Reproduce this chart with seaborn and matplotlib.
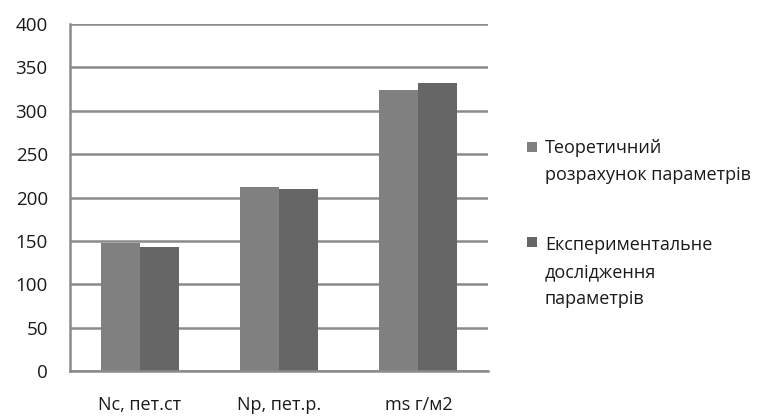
import matplotlib
matplotlib.use("Agg")
import matplotlib.pyplot as plt
import seaborn as sns
import pandas as pd
from matplotlib.patches import Rectangle
from matplotlib.ticker import FixedLocator

categories = ["Nc, пет.ст", "Np, пет.р.", "ms г/м2"]
series_names = ["Теоретичний\nрозрахунок параметрів",
                "Експериментальне\nдослідження\nпараметрів"]
theoretical = [148, 212, 324]
experimental = [143, 210, 332]
y_ticks = [0, 50, 100, 150, 200, 250, 300, 350, 400]
palette = ["#808080", "#666666"]

df = pd.DataFrame({
    "category": categories * 2,
    "series": [series_names[0]] * 3 + [series_names[1]] * 3,
    "value": theoretical + experimental,
})

sns.set_theme(style="white")
plt.rcParams["font.family"] = ["Open Sans", "DejaVu Sans"]

W, H = 768, 419
grid_col = "#8a8a8a"
text_col = "#1a1a1a"
fig = plt.figure(figsize=(W / 100, H / 100), dpi=100)
ax = fig.add_axes([70 / W, 1 - 371 / H, 418 / W, 347 / H])

sns.barplot(data=df, x="category", y="value", hue="series",
            palette=palette, width=0.56, saturation=1, linewidth=0,
            ax=ax, legend=False)

ax.set_ylim(0, 400)
ax.set_xlim(-0.5, 2.5)
ax.set_yticks(y_ticks)
ax.yaxis.grid(True, color=grid_col, linewidth=1.8)
ax.set_axisbelow(True)
ax.set_xlabel("")
ax.set_ylabel("")

for side in ["top", "right"]:
    ax.spines[side].set_visible(False)
for side in ["left", "bottom"]:
    ax.spines[side].set_color(grid_col)
    ax.spines[side].set_linewidth(1.8)

ax.tick_params(axis="y", which="major", direction="out", length=5,
               width=1.8, color=grid_col, labelsize=13.5, labelcolor=text_col,
               pad=11)
ax.tick_params(axis="x", which="major", length=0, labelsize=13,
               labelcolor=text_col, pad=18)
ax.xaxis.set_minor_locator(FixedLocator([-0.5, 0.5, 1.5, 2.5]))
ax.tick_params(axis="x", which="minor", direction="out", length=5,
               width=1.8, color=grid_col)

# legend: square key next to the first line of each wrapped label
key_tops = [142, 237]
first_baselines = [153, 250]
line_pitch = 27
for name, colour, top, base in zip(series_names, palette, key_tops,
                                   first_baselines):
    fig.patches.append(Rectangle((527 / W, 1 - (top + 10) / H), 10 / W,
                                 10 / H, transform=fig.transFigure,
                                 facecolor=colour, edgecolor="none"))
    for i, line in enumerate(name.split("\n")):
        fig.text(545 / W, 1 - (base + i * line_pitch) / H, line,
                 fontsize=13, color=text_col, ha="left", va="baseline")

fig.savefig("out.png", dpi=100, facecolor="white")
